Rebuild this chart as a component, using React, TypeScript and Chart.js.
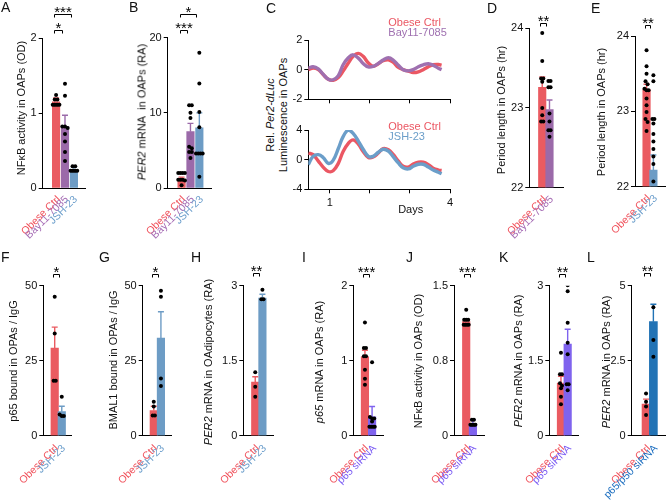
import React, { useEffect, useRef, useState } from 'react';
import { Chart, registerables } from 'chart.js';
Chart.register(...registerables);

const FONT = '"Liberation Sans", Arial, Helvetica, sans-serif';

const RED = '#ea5b61';
const PURPLE = '#9b6aa9';
const LBLUE = '#6d9cc5';
const VIOLET = '#7f63ee';
const DBLUE = '#2273b5';
const L_RED = '#f0505a';
const L_PURPLE = '#a66db5';
const L_LBLUE = '#6d9fcc';
const L_VIOLET = '#7b5cf4';
const L_DBLUE = '#1d6fc0';

// ---------- Panel A ----------
const aCats = ['Obese Ctrl', 'Bay11-7085', 'JSH-23'];
const aMeans = [1.15, 0.82, 0.245];
const aSems = [0.05, 0.15, 0.03];
const aCtrlDots = [1.24, 1.18, 1.18, 1.11, 1.11, 1.11, 1.11, 1.11];
const aBayDots = [1.39, 1.23, 0.82, 0.82, 0.8, 0.72, 0.62, 0.48, 0.36];
const aJshDots = [0.29, 0.29, 0.23, 0.23, 0.23, 0.23, 0.23];
const aTicks = [0, 1, 2];

// ---------- Panel B ----------
const bCats = ['Obese Ctrl', 'Bay11-7085', 'JSH-23'];
const bMeans = [1.2, 7.5, 8.0];
const bSems = [0.25, 1.1, 2.0];
const bCtrlDots = [2, 2, 2, 2, 1.1, 1.1, 1.1, 1.0, 0.35];
const bBayDots = [11, 11, 10, 9.3, 5.5, 5.3, 4.8, 4.8, 4.0];
const bJshDots = [18, 13.9, 10.1, 8.1, 4.6, 4.6, 4.6, 4.6, 1.5];
const bTicks = [0, 10, 20];

// ---------- Panel C ----------
const cDays = [0.46, 0.58, 0.71, 0.83, 0.96, 1.08, 1.21, 1.33, 1.46, 1.58, 1.71, 1.83, 1.96, 2.08, 2.21, 2.33, 2.46, 2.58, 2.71, 2.83, 2.96, 3.08, 3.21, 3.33, 3.46, 3.58, 3.71, 3.79];
const cTopCtrl = [0.0, 0.1, 0.0, -0.33, -0.65, -0.72, -0.53, -0.1, 0.45, 0.9, 1.1, 0.9, 0.45, 0.22, 0.4, 0.6, 0.66, 0.5, 0.15, 0.0, -0.1, -0.2, -0.15, 0.0, 0.2, 0.33, 0.35, 0.3];
const cTopBay = [0.1, 0.2, 0.05, -0.3, -0.65, -0.68, -0.4, 0.33, 0.8, 1.0, 0.78, 0.42, 0.18, 0.22, 0.42, 0.65, 0.8, 0.65, 0.3, 0.0, -0.08, 0.0, 0.2, 0.33, 0.4, 0.3, 0.1, 0.0];
const cBotCtrl = [0.9, 0.67, -0.2, -1.0, -1.6, -1.5, -0.5, 1.1, 2.2, 2.67, 2.1, 1.1, 0.3, 0.35, 0.9, 1.5, 1.35, 0.7, -0.2, -0.9, -1.0, -0.6, -0.35, -0.35, -0.67, -1.15, -1.4, -1.47];
const cBotJsh = [-0.67, 0.44, 0.67, 0.3, -0.5, -0.1, 1.5, 3.1, 4.0, 3.55, 2.5, 1.4, 0.45, 0.45, 1.0, 1.4, 1.15, 0.4, -0.45, -1.1, -1.25, -0.9, -0.62, -0.62, -1.0, -1.4, -1.7, -1.9];
const cDayTicks = [1, 2, 3, 4];
const cDayLabels = ['1', '', '', '4'];
const cTopTicks = [-2, 0, 2];
const cBotTicks = [-4, 0, 4];

// ---------- Panel D ----------
const dCats = ['Obese Ctrl', 'Bay11-7085'];
const dMeans = [23.26, 22.98];
const dSems = [0.13, 0.12];
const dCtrlDots = [23.94, 23.59, 23.37, 23.37, 23.33, 23.0, 22.91, 22.83, 22.83];
const dBayDots = [23.34, 23.34, 23.26, 23.26, 22.93, 22.83, 22.72, 22.72, 22.64];
const dTicks = [22, 23, 24];

// ---------- Panel E ----------
const eCats = ['Obese Ctrl', 'JSH-23'];
const eMeans = [23.29, 22.22];
const eSems = [0.07, 0.2];
const eCtrlDots = [24.09, 23.81, 23.6, 23.5, 23.4, 23.36, 23.3, 23.28, 23.28, 23.17, 23.08, 22.99, 22.9, 22.86, 22.74];
const eJshDots = [23.48, 23.4, 22.9, 22.9, 22.84, 22.7, 22.6, 22.5, 22.4, 22.3, 22.07];
const eTicks = [22, 23, 24];

// ---------- Panel F ----------
const fCats = ['Obese Ctrl', 'JSH-23'];
const fMeans = [29.2, 8.0];
const fSems = [7.0, 1.8];
const fCtrlDots = [46.3, 34.1, 18.3, 18.3];
const fJshDots = [13, 7.1, 6.6, 6.6];
const fTicks = [0, 25, 50];

// ---------- Panel G ----------
const gCats = ['Obese Ctrl', 'JSH-23'];
const gMeans = [8.4, 32.5];
const gSems = [1.4, 8.8];
const gCtrlDots = [11.3, 9.7, 6.7, 6.7];
const gJshDots = [48.3, 46.3, 19.1, 16.6];
const gTicks = [0, 25, 50];

// ---------- Panel H ----------
const hCats = ['Obese Ctrl', 'JSH-23'];
const hMeans = [1.07, 2.75];
const hSems = [0.11, 0.08];
const hCtrlDots = [1.27, 0.98, 0.78];
const hJshDots = [2.92, 2.73, 2.73];
const hTicks = [0, 1.5, 3];

// ---------- Panel I ----------
const iCats = ['Obese Ctrl', 'p65 siRNA'];
const iMeans = [1.05, 0.25];
const iSems = [0.09, 0.14];
const iCtrlDots = [1.51, 1.17, 1.17, 1.06, 1.06, 0.88, 0.76, 0.68];
const iSiDots = [0.98, 0.25, 0.23, 0.23, 0.19, 0.12, 0.12, 0.12, 0.12];
const iTicks = [0, 1, 2];

// ---------- Panel J ----------
const jCats = ['Obese Ctrl', 'p65 siRNA'];
const jMeans = [1.14, 0.12];
const jSems = [0.03, 0.04];
const jCtrlDots = [1.26, 1.16, 1.16, 1.16, 1.11, 1.11, 1.11, 1.11];
const jSiDots = [0.16, 0.16, 0.11, 0.11, 0.11, 0.11, 0.11];
const jTicks = [0, 0.75, 1.5];

// ---------- Panel K ----------
const kCats = ['Obese Ctrl', 'p65 siRNA'];
const kMeans = [1.05, 1.83];
const kSems = [0.14, 0.3];
const kCtrlDots = [1.66, 1.23, 1.23, 1.05, 1.0, 0.95, 0.78, 0.63];
const kSiDots = [3.01, 2.89, 2.26, 1.86, 1.63, 1.03, 1.03, 0.91];
const kTicks = [0, 1.5, 3];

// ---------- Panel L ----------
const lCats = ['Obese Ctrl', 'p65/p50 siRNA'];
const lMeans = [1.05, 3.8];
const lSems = [0.17, 0.58];
const lCtrlDots = [1.41, 1.13, 0.97, 0.69];
const lSiDots = [5.11, 4.28, 3.19, 2.63];
const lTicks = [0, 2.5, 5];

type Bracket = { a: number; b: number; text: string; rise: number };
type BarSpec = {
  box: number[];
  area: number[];
  cats: string[];
  labelColors: string[];
  barColors: string[];
  means: number[];
  sems: number[];
  dots: number[][];
  yTicks: number[];
  padL: number;
  padR: number;
  barW: number;
  labelDy: number;
  brackets: Bracket[];
};

function swarm(vals: number[], range: number) {
  const sorted = [...vals].sort((p, q) => q - p);
  const out: { y: number; dx: number }[] = [];
  let i = 0;
  while (i < sorted.length) {
    let j = i;
    while (j + 1 < sorted.length && sorted[i] - sorted[j + 1] < range * 0.02) j++;
    const m = j - i + 1;
    const step = m > 1 ? Math.min(0.3, 0.75 / (m - 1)) : 0;
    for (let k = 0; k < m; k++) out.push({ y: sorted[i + k], dx: (k - (m - 1) / 2) * step });
    i = j + 1;
  }
  return out;
}

function barConfig(s: BarSpec): any {
  const [bl, bt, bw, bh] = s.box;
  const [al, at, ar, ab] = s.area;
  const n = s.cats.length;
  const yMin = s.yTicks[0];
  const yMax = s.yTicks[s.yTicks.length - 1];
  const dotData: { x: number; y: number }[] = [];
  s.dots.forEach((vals, i) => {
    swarm(vals, yMax - yMin).forEach((p) => dotData.push({ x: i + p.dx, y: p.y }));
  });
  const errPlugin = {
    id: 'errBars',
    afterDatasetDraw(chart: any, args: any) {
      if (args.meta.type !== 'bar') return;
      const ctx = chart.ctx;
      const xs = chart.scales.x;
      const ys = chart.scales.y;
      s.means.forEach((m, i) => {
        const px = xs.getPixelForValue(i);
        const y0 = ys.getPixelForValue(m);
        const y1 = ys.getPixelForValue(m + s.sems[i]);
        ctx.save();
        ctx.strokeStyle = s.barColors[i];
        ctx.lineWidth = 1.4;
        ctx.beginPath();
        ctx.moveTo(px, y0);
        ctx.lineTo(px, y1);
        ctx.moveTo(px - 3, y1);
        ctx.lineTo(px + 3, y1);
        ctx.stroke();
        ctx.restore();
      });
    },
  };
  const bracketPlugin = {
    id: 'brackets',
    afterDraw(chart: any) {
      const ctx = chart.ctx;
      const xs = chart.scales.x;
      const area = chart.chartArea;
      s.brackets.forEach((br) => {
        const xa = Math.round(xs.getPixelForValue(br.a) - 2) + 0.5;
        const xb = Math.round(xs.getPixelForValue(br.b) - 3) + 0.5;
        const ly = Math.round(area.top - br.rise) + 0.5;
        ctx.save();
        ctx.strokeStyle = '#000';
        ctx.lineWidth = 1;
        ctx.beginPath();
        ctx.moveTo(xa, ly + 3);
        ctx.lineTo(xa, ly);
        ctx.lineTo(xb, ly);
        ctx.lineTo(xb, ly + 3);
        ctx.stroke();
        ctx.fillStyle = '#000';
        ctx.font = `15px ${FONT}`;
        ctx.textAlign = 'center';
        ctx.textBaseline = 'alphabetic';
        const m = ctx.measureText(br.text);
        const desc = m.actualBoundingBoxDescent || -6;
        ctx.fillText(br.text, (xa + xb) / 2, ly - 1.5 - desc);
        ctx.restore();
      });
    },
  };
  return {
    type: 'bar',
    data: {
      datasets: [
        {
          type: 'scatter',
          data: dotData,
          pointRadius: 2,
          pointHoverRadius: 2,
          pointBackgroundColor: '#000',
          pointBorderWidth: 0,
          order: 0,
        },
        {
          type: 'bar',
          data: s.means.map((m, i) => ({ x: i, y: m })),
          backgroundColor: s.barColors,
          barThickness: s.barW,
          base: yMin,
          order: 1,
        },
      ],
    },
    options: {
      responsive: false,
      animation: false,
      devicePixelRatio: 1,
      layout: { padding: { left: 0, top: at - bt, right: bl + bw - ar, bottom: 0 } },
      plugins: { legend: { display: false }, tooltip: { enabled: false } },
      scales: {
        x: {
          type: 'linear',
          min: -s.padL,
          max: n - 1 + s.padR,
          afterBuildTicks: (sc: any) => {
            sc.ticks = s.cats.map((_, i) => ({ value: i }));
          },
          afterFit: (sc: any) => {
            sc.height = bt + bh - ab;
          },
          grid: { display: false, drawTicks: false },
          border: { display: true, color: '#000', width: 1 },
          ticks: { display: false },
        },
        y: {
          type: 'linear',
          min: yMin,
          max: yMax,
          afterBuildTicks: (sc: any) => {
            sc.ticks = s.yTicks.map((v) => ({ value: v }));
          },
          afterFit: (sc: any) => {
            sc.width = al - bl;
          },
          grid: { display: true, drawOnChartArea: false, drawTicks: true, tickLength: 4, color: '#000' },
          border: { display: true, color: '#000', width: 1 },
          ticks: { padding: 2, font: { family: FONT, size: 11 }, color: '#111' },
        },
      },
    },
    plugins: [errPlugin, bracketPlugin],
  };
}

type LineSpec = {
  box: number[];
  area: number[];
  series: { values: number[]; color: string }[];
  yTicks: number[];
  xLabels: string[];
};

function lineConfig(s: LineSpec): any {
  const [bl, bt, bw, bh] = s.box;
  const [al, at, ar, ab] = s.area;
  return {
    type: 'line',
    data: {
      datasets: s.series.map((se, k) => ({
        data: cDays.map((d, i) => ({ x: d, y: se.values[i] })),
        borderColor: se.color,
        borderWidth: 3.4,
        pointRadius: 0,
        tension: 0.4,
        fill: false,
        order: s.series.length - k,
      })),
    },
    options: {
      responsive: false,
      animation: false,
      devicePixelRatio: 1,
      layout: { padding: { left: 0, top: at - bt, right: bl + bw - ar, bottom: 0 } },
      plugins: { legend: { display: false }, tooltip: { enabled: false } },
      scales: {
        x: {
          type: 'linear',
          min: cDays[0],
          max: cDayTicks[cDayTicks.length - 1],
          afterBuildTicks: (sc: any) => {
            sc.ticks = cDayTicks.map((v) => ({ value: v }));
          },
          afterFit: (sc: any) => {
            sc.height = bt + bh - ab;
          },
          grid: { display: true, drawOnChartArea: false, drawTicks: true, tickLength: 4, color: '#000' },
          border: { display: true, color: '#000', width: 1 },
          ticks: {
            autoSkip: false,
            maxRotation: 0,
            padding: 3,
            font: { family: FONT, size: 11 },
            color: '#111',
            callback: (_v: any, i: number) => s.xLabels[i],
          },
        },
        y: {
          type: 'linear',
          min: s.yTicks[0],
          max: s.yTicks[s.yTicks.length - 1],
          afterBuildTicks: (sc: any) => {
            sc.ticks = s.yTicks.map((v) => ({ value: v }));
          },
          afterFit: (sc: any) => {
            sc.width = al - bl;
          },
          grid: { display: true, drawOnChartArea: false, drawTicks: true, tickLength: 4, color: '#000' },
          border: { display: true, color: '#000', width: 1 },
          ticks: { padding: 2, font: { family: FONT, size: 11 }, color: '#111' },
        },
      },
    },
  };
}

type CatLabels = { cats: string[]; colors: string[]; dy: number };

function ChartBox({ box, config, labels }: { box: number[]; config: any; labels?: CatLabels }) {
  const ref = useRef<HTMLCanvasElement>(null);
  const [pos, setPos] = useState<{ x: number; y: number }[]>([]);
  useEffect(() => {
    const chart = new Chart(ref.current as HTMLCanvasElement, config);
    if (labels) {
      const xs: any = chart.scales.x;
      setPos(labels.cats.map((_, i) => ({ x: xs.getPixelForValue(i), y: chart.chartArea.bottom })));
    }
    return () => chart.destroy();
  }, []);
  return (
    <div style={{ position: 'absolute', left: box[0], top: box[1], width: box[2], height: box[3] }}>
      <canvas ref={ref} width={box[2]} height={box[3]} style={{ position: 'absolute', left: 0, top: 0, width: box[2], height: box[3] }} />
      {labels &&
        pos.map((p, i) => (
          <div
            key={i}
            style={{
              position: 'absolute',
              left: p.x + 1.5,
              top: p.y + labels.dy,
              transform: 'translate(-100%, -50%) rotate(-45deg)',
              transformOrigin: '100% 50%',
              whiteSpace: 'nowrap',
              fontSize: 10.5,
              lineHeight: '12px',
              color: labels.colors[i],
            }}
          >
            {labels.cats[i]}
          </div>
        ))}
    </div>
  );
}

const top3Labels = [L_RED, L_PURPLE, L_LBLUE];
const top3Bars = [RED, PURPLE, LBLUE];

const barSpecs: BarSpec[] = [
  {
    box: [0, 0, 125, 250], area: [42.7, 38, 85.5, 188],
    cats: aCats, labelColors: top3Labels, barColors: top3Bars,
    means: aMeans, sems: aSems, dots: [aCtrlDots, aBayDots, aJshDots], yTicks: aTicks,
    padL: 0.7, padR: 0.5, barW: 7.5, labelDy: 9,
    brackets: [{ a: 0, b: 1, text: '*', rise: 8 }, { a: 0, b: 2, text: '***', rise: 24 }],
  },
  {
    box: [125, 0, 125, 250], area: [167.7, 37.7, 211, 188],
    cats: bCats, labelColors: top3Labels, barColors: top3Bars,
    means: bMeans, sems: bSems, dots: [bCtrlDots, bBayDots, bJshDots], yTicks: bTicks,
    padL: 0.75, padR: 0.5, barW: 7.5, labelDy: 9,
    brackets: [{ a: 0, b: 1, text: '***', rise: 8 }, { a: 0, b: 2, text: '*', rise: 24 }],
  },
  {
    box: [470, 0, 105, 250], area: [529.3, 28.3, 563, 187.7],
    cats: dCats, labelColors: [L_RED, L_PURPLE], barColors: [RED, PURPLE],
    means: dMeans, sems: dSems, dots: [dCtrlDots, dBayDots], yTicks: dTicks,
    padL: 0.62, padR: 0.7, barW: 7.5, labelDy: 9,
    brackets: [{ a: 0, b: 1, text: '**', rise: 5 }],
  },
  {
    box: [575, 0, 92, 250], area: [635, 36, 666, 186.7],
    cats: eCats, labelColors: [L_RED, L_LBLUE], barColors: [RED, LBLUE],
    means: eMeans, sems: eSems, dots: [eCtrlDots, eJshDots], yTicks: eTicks,
    padL: 0.59, padR: 0.6, barW: 7.5, labelDy: 9,
    brackets: [{ a: 0, b: 1, text: '**', rise: 11 }],
  },
  {
    box: [0, 250, 95, 254], area: [43.3, 285.7, 71.7, 435.7],
    cats: fCats, labelColors: [L_RED, L_LBLUE], barColors: [RED, LBLUE],
    means: fMeans, sems: fSems, dots: [fCtrlDots, fJshDots], yTicks: fTicks,
    padL: 0.61, padR: 0.4, barW: 7.5, labelDy: 10,
    brackets: [{ a: 0, b: 1, text: '*', rise: 12 }],
  },
  {
    box: [95, 250, 100, 254], area: [142.7, 285.7, 171, 435.7],
    cats: gCats, labelColors: [L_RED, L_LBLUE], barColors: [RED, LBLUE],
    means: gMeans, sems: gSems, dots: [gCtrlDots, gJshDots], yTicks: gTicks,
    padL: 0.56, padR: 0.42, barW: 7.5, labelDy: 10,
    brackets: [{ a: 0, b: 1, text: '*', rise: 12 }],
  },
  {
    box: [195, 250, 100, 254], area: [243.3, 285.7, 273, 435.7],
    cats: hCats, labelColors: [L_RED, L_LBLUE], barColors: [RED, LBLUE],
    means: hMeans, sems: hSems, dots: [hCtrlDots, hJshDots], yTicks: hTicks,
    padL: 0.63, padR: 0.44, barW: 7.5, labelDy: 10,
    brackets: [{ a: 0, b: 1, text: '**', rise: 13 }],
  },
  {
    box: [295, 250, 100, 254], area: [353.3, 285.7, 383, 435.7],
    cats: iCats, labelColors: [L_RED, L_VIOLET], barColors: [RED, VIOLET],
    means: iMeans, sems: iSems, dots: [iCtrlDots, iSiDots], yTicks: iTicks,
    padL: 0.59, padR: 0.49, barW: 7.5, labelDy: 10,
    brackets: [{ a: 0, b: 1, text: '***', rise: 12 }],
  },
  {
    box: [395, 250, 100, 254], area: [454, 285.7, 484.3, 435.7],
    cats: jCats, labelColors: [L_RED, L_VIOLET], barColors: [RED, VIOLET],
    means: jMeans, sems: jSems, dots: [jCtrlDots, jSiDots], yTicks: jTicks,
    padL: 0.69, padR: 0.57, barW: 7.5, labelDy: 10,
    brackets: [{ a: 0, b: 1, text: '***', rise: 12 }],
  },
  {
    box: [495, 250, 95, 254], area: [549.3, 285.7, 578, 435.7],
    cats: kCats, labelColors: [L_RED, L_VIOLET], barColors: [RED, VIOLET],
    means: kMeans, sems: kSems, dots: [kCtrlDots, kSiDots], yTicks: kTicks,
    padL: 0.67, padR: 0.47, barW: 7.5, labelDy: 10,
    brackets: [{ a: 0, b: 1, text: '**', rise: 12 }],
  },
  {
    box: [590, 250, 77, 254], area: [631.7, 285.7, 666, 435.7],
    cats: lCats, labelColors: [L_RED, L_DBLUE], barColors: [RED, DBLUE],
    means: lMeans, sems: lSems, dots: [lCtrlDots, lSiDots], yTicks: lTicks,
    padL: 0.82, padR: 0.45, barW: 8, labelDy: 10,
    brackets: [{ a: 0, b: 1, text: '**', rise: 13 }],
  },
];

const cTopSpec: LineSpec = {
  box: [290, 15, 175, 95], area: [308.3, 40, 450, 99.3],
  series: [{ values: cTopCtrl, color: '#eb5763' }, { values: cTopBay, color: '#9f70b0' }],
  yTicks: cTopTicks, xLabels: ['', '', '', ''],
};
const cBotSpec: LineSpec = {
  box: [290, 110, 175, 110], area: [308.3, 130, 450, 189.3],
  series: [{ values: cBotCtrl, color: '#eb5763' }, { values: cBotJsh, color: '#6b9ec9' }],
  yTicks: cBotTicks, xLabels: cDayLabels,
};

function VTitle({ x, y, children }: { x: number; y: number; children: any }) {
  return (
    <div
      style={{
        position: 'absolute', left: x, top: y, transform: 'translate(-50%,-50%) rotate(-90deg)',
        whiteSpace: 'nowrap', fontSize: 11, lineHeight: '13px', color: '#111', textAlign: 'center',
      }}
    >
      {children}
    </div>
  );
}

function Letter({ x, y, t }: { x: number; y: number; t: string }) {
  return (
    <div style={{ position: 'absolute', left: x, top: y, fontSize: 14, lineHeight: '14px', color: '#111' }}>{t}</div>
  );
}

function Txt({ x, y, t, color }: { x: number; y: number; t: string; color: string }) {
  return (
    <div style={{ position: 'absolute', left: x, top: y - 6.5, fontSize: 11, lineHeight: '13px', color, whiteSpace: 'nowrap' }}>{t}</div>
  );
}

export default function App() {
  return (
    <div style={{ position: 'absolute', left: 0, top: 0, width: 667, height: 504, background: '#fff', fontFamily: FONT, overflow: 'hidden' }}>
      {barSpecs.map((s, i) => (
        <ChartBox key={i} box={s.box} config={barConfig(s)} labels={{ cats: s.cats, colors: s.labelColors, dy: s.labelDy }} />
      ))}
      <ChartBox box={cTopSpec.box} config={lineConfig(cTopSpec)} />
      <ChartBox box={cBotSpec.box} config={lineConfig(cBotSpec)} />

      <Letter x={1} y={0} t="A" />
      <Letter x={129} y={0} t="B" />
      <Letter x={266} y={1} t="C" />
      <Letter x={487} y={1} t="D" />
      <Letter x={591} y={1} t="E" />
      <Letter x={1} y={250} t="F" />
      <Letter x={99} y={250} t="G" />
      <Letter x={191} y={250} t="H" />
      <Letter x={302} y={250} t="I" />
      <Letter x={406} y={250} t="J" />
      <Letter x={499} y={250} t="K" />
      <Letter x={587} y={250} t="L" />

      <VTitle x={20.5} y={108}>NFκB activity in OAPs (OD)</VTitle>
      <VTitle x={141.5} y={112}><i>PER2</i> mRNA&nbsp; in OAPs (RA)</VTitle>
      <VTitle x={276.5} y={115}>
        <div>Rel. <i>Per2-dLuc</i></div>
        <div>Luminescence in OAPs</div>
      </VTitle>
      <VTitle x={501} y={110}>Period length in OAPs (hr)</VTitle>
      <VTitle x={601} y={112}>Period length in OAPs (hr)</VTitle>
      <VTitle x={12.5} y={361}>p65 bound in OPAs / IgG</VTitle>
      <VTitle x={112.5} y={360}>BMAL1 bound in OPAs / IgG</VTitle>
      <VTitle x={207.5} y={362}><i>PER2</i> mRNA in OAdipocytes (RA)</VTitle>
      <VTitle x={319} y={362}><i>p65</i> mRNA in OAPs (RA)</VTitle>
      <VTitle x={417.5} y={361}>NFκB activity in OAPs (OD)</VTitle>
      <VTitle x={517.5} y={361}><i>PER2</i> mRNA in OAPs (RA)</VTitle>
      <VTitle x={606} y={362}><i>PER2</i> mRNA in OAPs (RA)</VTitle>

      <Txt x={388.3} y={22.3} t="Obese Ctrl" color="#eb5763" />
      <Txt x={388.3} y={32.3} t="Bay11-7085" color="#9f70b0" />
      <Txt x={388.3} y={126.7} t="Obese Ctrl" color="#eb5763" />
      <Txt x={388.3} y={136.7} t="JSH-23" color="#6b9ec9" />
      <div style={{ position: 'absolute', left: 410.7, top: 209, transform: 'translate(-50%,-50%)', fontSize: 11, color: '#111' }}>Days</div>
    </div>
  );
}
